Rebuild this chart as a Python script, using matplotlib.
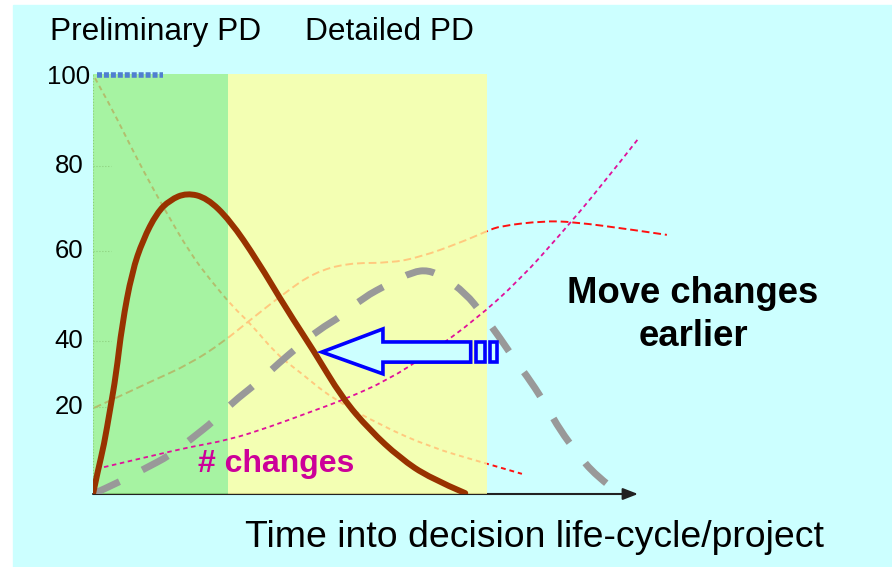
import matplotlib.pyplot as plt
from matplotlib.patches import Rectangle, Polygon, PathPatch
from matplotlib.path import Path

plt.rcParams['font.family'] = ['Liberation Sans', 'DejaVu Sans']

# phases (x extent)
phase_names = ['Preliminary PD', 'Detailed PD']
phase_start = [0, 24.8]
phase_end = [24.8, 72.3]

# y tick labels
tick_labels = ['20', '40', '60', '80', '100']
tick_pos = [20.7, 36.5, 57.8, 78.1, 99.3]

# "# changes" (actual) - solid brown
chg_x = [0, 0.92, 2.02, 3.12, 4.22, 5.32, 7.16, 9.17, 11.7, 14.1, 17.2, 20.9,
         25.1, 30.1, 35.6, 40.4, 45.7, 50.8, 56.3, 61.8, 68.3]
chg_y = [0, 5.7, 11.7, 20.0, 28.3, 40.2, 52.9, 60.5, 66.9, 70.0, 71.7, 70.5,
         65.2, 55.7, 43.8, 34.3, 22.9, 15.2, 8.6, 3.8, 0.2]

# typical changes - grey dashed
typ_x = [0, 4.95, 8.99, 14.3, 17.8, 22.4, 25.5, 30.1, 34.3, 37.4, 41.3, 45.9,
         49.5, 54.5, 58.7, 61.5, 64.2, 68.3, 71.6, 74.7, 77.4, 80.4, 83.3,
         85.7, 88.8, 92.1, 96.7]
typ_y = [0, 2.9, 5.7, 9.3, 12.9, 17.6, 21.7, 26.4, 31.4, 34.8, 39.0, 42.6,
         46.7, 50.2, 52.9, 53.3, 51.7, 47.9, 42.6, 37.1, 31.9, 26.7, 20.7,
         15.2, 9.8, 4.5, 0]

# falling thin curve
fall_x = [0.37, 3.12, 5.87, 9.17, 13.2, 17.8, 21.5, 25.7, 28.8, 33.8, 38.0,
          43.5, 52.7, 61.8, 71.2, 78.7]
fall_y = [99.0, 92.6, 85.5, 77.1, 67.6, 57.4, 51.0, 44.5, 40.7, 33.1, 29.0,
          23.1, 16.4, 11.2, 7.6, 4.8]

# rising then flattening thin curve
rise_x = [0.18, 4.95, 10.5, 17.8, 23.9, 28.8, 35.2, 40.4, 46.6, 54.5, 60.0,
          67.3, 72.3, 74.7, 82.6, 88.1, 99.1, 105.3]
rise_y = [20.5, 23.3, 26.7, 31.0, 36.2, 41.4, 47.9, 52.6, 55.0, 55.0, 56.4,
          59.8, 62.6, 63.8, 65.0, 64.8, 62.9, 61.7]

# cost of change - magenta dashed
cost_x = [2.02, 10.5, 17.8, 25.0, 32.5, 39.8, 45.9, 54.1, 61.8, 70.1, 78.3,
          85.7, 93.0, 100.0]
cost_y = [6.4, 9.0, 11.2, 12.9, 16.0, 19.5, 22.4, 27.1, 33.6, 41.4, 51.0,
          61.7, 72.9, 84.5]


def curve(xs, ys, **kw):
    # quadratic bezier through the midpoints, so the corners are rounded
    pts = list(zip(xs, ys))
    verts = [pts[0]]
    codes = [Path.MOVETO]
    for i in range(1, len(pts) - 1):
        mid = ((pts[i][0] + pts[i + 1][0]) / 2, (pts[i][1] + pts[i + 1][1]) / 2)
        if i == len(pts) - 2:
            mid = pts[-1]
        verts += [pts[i], mid]
        codes += [Path.CURVE3, Path.CURVE3]
    return PathPatch(Path(verts, codes), fill=False, **kw)


W, H = 892, 567
fig = plt.figure(figsize=(W / 100, H / 100), dpi=100)
fig.patches.append(Rectangle((13 / W, 0), 1 - 13 / W, 1 - 5 / H,
                             transform=fig.transFigure, color='#CCFFFF', zorder=-10))

ax = fig.add_axes([93 / W, 73 / H, 115 * 5.45 / W, 420 / H])
ax.set_xlim(0, 115)
ax.set_ylim(0, 100)
ax.axis('off')

# axes lines (under the shading)
ax.plot([0, 0], [0, 100], color='#555555', lw=0.8, ls=':', zorder=1)
for p in tick_pos[:-1]:
    ax.plot([0, 3.3], [p, p], color='#555555', lw=0.8, ls=':', zorder=1)
ax.annotate('', xy=(100, 0), xytext=(0, 0),
            arrowprops=dict(arrowstyle='-|>,head_length=0.9,head_width=0.35',
                            color='#222222', lw=1.5, shrinkA=0, shrinkB=0),
            zorder=1, annotation_clip=False)

# thin red curves (under the shading)
ax.add_patch(curve(fall_x, fall_y, edgecolor='#FF1010', lw=1.4,
                   linestyle=(0, (2.5, 2)), zorder=1))
ax.add_patch(curve(rise_x, rise_y, edgecolor='#FF1010', lw=1.4,
                   linestyle=(0, (4, 2)), zorder=1))

# phase shading
ax.add_patch(Rectangle((phase_start[0], 0), phase_end[0] - phase_start[0], 100,
                       color='#9CF088', alpha=0.78, lw=0, zorder=2))
ax.add_patch(Rectangle((phase_start[1], 0), phase_end[1] - phase_start[1], 100,
                       color='#FFFF9E', alpha=0.78, lw=0, zorder=2))

ax.plot([0.7, 12.8], [99.7, 99.7], color='#4F7FD0', lw=4, dashes=(0.9, 0.35),
        zorder=3, clip_on=False)

ax.add_patch(curve(cost_x, cost_y, edgecolor='#E0109A', lw=1.3,
                   linestyle=(0, (2.5, 2)), zorder=3))
ax.add_patch(curve(typ_x, typ_y, edgecolor='#999999', lw=5,
                   linestyle=(0, (4.2, 3.7)), capstyle='butt', zorder=4))
ax.add_patch(curve(chg_x, chg_y, edgecolor='#983200', lw=4.3,
                   capstyle='round', zorder=5))

# hollow "move earlier" arrow
arrow = [(42.0, 33.8), (53.2, 39.3), (53.2, 36.2), (69.3, 36.2),
         (69.3, 31.4), (53.2, 31.4), (53.2, 28.6)]
ax.add_patch(Polygon(arrow, closed=True, facecolor='#CCFFFF', edgecolor='#0000FF',
                     lw=2.6, zorder=6))
ax.add_patch(Rectangle((70.3, 31.4), 1.6, 4.8, facecolor='#CCFFFF',
                       edgecolor='#0000FF', lw=2.6, zorder=6))
ax.add_patch(Rectangle((72.8, 31.4), 1.3, 4.8, facecolor='#CCFFFF',
                       edgecolor='#0000FF', lw=2.6, zorder=6))

# texts
fig.text(50 / W, 1 - 40 / H, phase_names[0], fontsize=22.8, va='baseline', ha='left')
fig.text(305 / W, 1 - 40 / H, phase_names[1], fontsize=22.8, va='baseline', ha='left')
for lab, p in zip(tick_labels, tick_pos):
    ax.text(-4.4, p, lab, fontsize=18.5, ha='center', va='center')

fig.text(245 / W, 1 - 547 / H, 'Time into decision life-cycle/project',
         fontsize=26.9, va='baseline', ha='left')
fig.text(693 / W, 1 - 303 / H, 'Move changes', fontsize=26.3, fontweight='bold',
         ha='center', va='baseline')
fig.text(693 / W, 1 - 346 / H, 'earlier', fontsize=26.3, fontweight='bold',
         ha='center', va='baseline')
fig.text(198 / W, 1 - 472 / H, '# changes', fontsize=23, fontweight='bold',
         color='#CC0099', ha='left', va='baseline')

fig.savefig('out.png', dpi=100)
